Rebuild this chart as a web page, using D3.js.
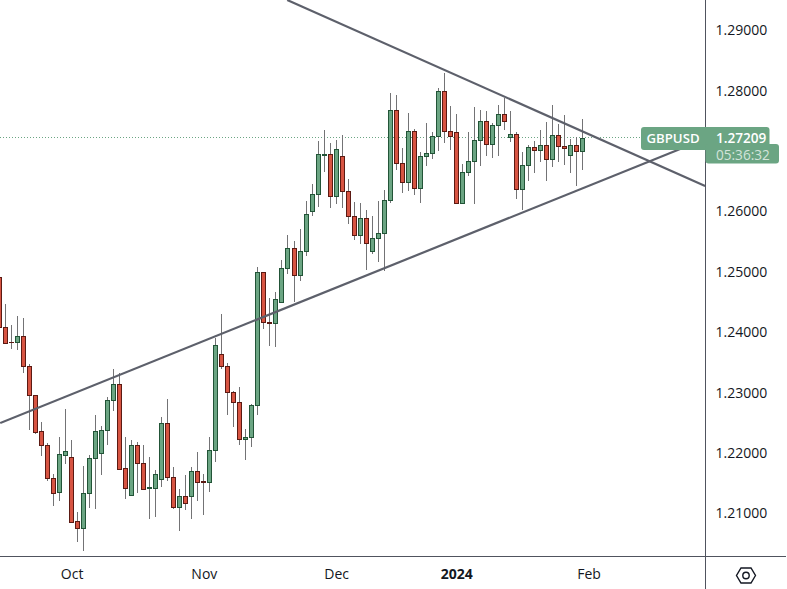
<!DOCTYPE html>
<html><head><meta charset="utf-8">
<script src="https://cdnjs.cloudflare.com/ajax/libs/d3/7.8.5/d3.min.js"></script>
<style>html,body{margin:0;padding:0;background:#fff}svg{display:block}text{font-family:"Open Sans","Liberation Sans",sans-serif}</style>
</head><body><div id="c"></div>
<script>
const opens=[1.24902,1.24080,1.23826,1.23821,1.23921,1.23424,1.22944,1.22348,1.22116,1.21570,1.21338,1.21960,1.21917,1.20858,1.20752,1.21321,1.21901,1.21993,1.22364,1.22861,1.23126,1.21735,1.21288,1.22116,1.21815,1.21404,1.21414,1.21553,1.22480,1.21586,1.21100,1.21272,1.21272,1.21686,1.21525,1.21503,1.22033,1.23623,1.23424,1.22994,1.22841,1.22215,1.22248,1.22778,1.24980,1.24154,1.24136,1.24483,1.25046,1.25378,1.24930,1.25328,1.25990,1.26272,1.26929,1.26934,1.26238,1.26901,1.26321,1.25907,1.25593,1.25874,1.25328,1.25543,1.25626,1.26172,1.27662,1.26785,1.26470,1.27315,1.26371,1.26901,1.26950,1.27232,1.27977,1.27315,1.27298,1.26123,1.26636,1.26818,1.27166,1.27480,1.27099,1.27414,1.27596,1.27225,1.27265,1.26354,1.26752,1.27050,1.27000,1.27083,1.26851,1.27248,1.27066,1.26917,1.27083,1.26983];
const highs=[1.24902,1.24455,1.24108,1.24257,1.24224,1.23462,1.22944,1.22502,1.22154,1.21636,1.22248,1.22717,1.22204,1.21012,1.21773,1.21950,1.22618,1.22436,1.22916,1.23379,1.23318,1.22248,1.22204,1.22171,1.22121,1.21922,1.21707,1.22580,1.22883,1.21757,1.21392,1.21624,1.21757,1.22005,1.21641,1.22253,1.23892,1.24290,1.23474,1.23010,1.23081,1.22386,1.22800,1.25068,1.24980,1.24555,1.24654,1.25184,1.25598,1.25498,1.25697,1.26161,1.26437,1.27154,1.27336,1.27121,1.27171,1.27253,1.26520,1.26139,1.26123,1.26012,1.25907,1.26161,1.26343,1.27949,1.27916,1.27033,1.27618,1.27348,1.26967,1.27452,1.27303,1.28027,1.28280,1.27733,1.27601,1.26773,1.27303,1.27717,1.27667,1.27651,1.27452,1.27750,1.27866,1.27651,1.27298,1.26972,1.27083,1.27154,1.27336,1.27469,1.27750,1.27435,1.27584,1.27182,1.27220,1.27518];
const lows=[1.24080,1.23805,1.23710,1.23694,1.23318,1.22369,1.22308,1.21944,1.21530,1.21116,1.21199,1.21806,1.20851,1.20520,1.20371,1.21083,1.21061,1.21629,1.22126,1.22689,1.21707,1.21229,1.21288,1.21331,1.21376,1.20901,1.20934,1.21431,1.21530,1.21066,1.20702,1.21045,1.20901,1.21199,1.20967,1.21348,1.21844,1.23384,1.22623,1.22424,1.22126,1.21873,1.22093,1.22623,1.24046,1.23765,1.23748,1.24483,1.24957,1.24488,1.24841,1.25255,1.25917,1.26061,1.26646,1.26050,1.26116,1.26050,1.25785,1.25515,1.25454,1.25018,1.25278,1.25151,1.25007,1.26133,1.26674,1.26298,1.26331,1.26265,1.26133,1.26740,1.26861,1.26993,1.27126,1.27010,1.26123,1.26123,1.26575,1.26111,1.26740,1.26906,1.26873,1.26911,1.27336,1.27142,1.26199,1.26012,1.26497,1.26629,1.26811,1.26497,1.26729,1.26811,1.26757,1.26629,1.26414,1.26679];
const closes=[1.24080,1.23805,1.23818,1.23921,1.23424,1.22944,1.22341,1.22116,1.21570,1.21331,1.21967,1.22017,1.20851,1.20752,1.21321,1.21901,1.22348,1.22364,1.22861,1.23126,1.21724,1.21414,1.22116,1.21815,1.21397,1.21421,1.21636,1.22480,1.21586,1.21100,1.21272,1.21166,1.21686,1.21513,1.21515,1.22033,1.23772,1.23424,1.22994,1.22841,1.22215,1.22248,1.22778,1.24980,1.24152,1.24142,1.24533,1.25046,1.25378,1.24930,1.25328,1.25940,1.26272,1.26934,1.26939,1.26238,1.27017,1.26321,1.25907,1.25593,1.25874,1.25460,1.25543,1.25626,1.26172,1.27662,1.26785,1.26470,1.27315,1.26371,1.26901,1.26950,1.27232,1.27977,1.27315,1.27232,1.26123,1.26636,1.26818,1.27166,1.27480,1.27099,1.27414,1.27596,1.27480,1.27265,1.26354,1.26752,1.27050,1.27000,1.27083,1.26851,1.27248,1.27066,1.27033,1.27083,1.26983,1.27209];
const xTickBars=[12,34,56,76,98];
const xTickLabels=["Oct","Nov","Dec","2024","Feb"];
const yTicks=[1.29,1.28,1.26,1.25,1.24,1.23,1.22,1.21];
const upperTrendBars=[47.87,117.4], upperTrendPrices=[1.29488,1.26409];
const lowerTrendBars=[0.12,114.9], lowerTrendPrices=[1.22485,1.27088];
const symbol="GBPUSD", lastPrice=1.27209, countdown="05:36:32";

const W=787,H=589,axisX=705,axisY=556;
const svg=d3.select("#c").append("svg").attr("width",W).attr("height",H).attr("viewBox",`0 0 ${W} ${H}`);
svg.append("rect").attr("width",W).attr("height",H).attr("fill","#fff");
svg.append("defs").append("clipPath").attr("id","pane").append("rect").attr("width",axisX).attr("height",axisY);

const x=d3.scaleLinear().domain([0,97]).range([-0.5,582.5]);
const y=d3.scaleLinear().domain([1.29,1.21]).range([29.5,512.7]);
const px=v=>Math.floor(x(v))+0.5;

const bars=opens.map((o,i)=>({i,o,h:highs[i],l:lows[i],c:closes[i]}));
const pane=svg.append("g").attr("clip-path","url(#pane)");
const UP="#6ba583",DOWN="#d75442",UPB="#225437",DOWNB="#5b1a13",WICK="#737375",LINE="#5d606b";

pane.append("line").attr("x1",0).attr("x2",axisX).attr("y1",Math.round(y(lastPrice))-0.5).attr("y2",Math.round(y(lastPrice))-0.5)
 .attr("stroke",UP).attr("stroke-width",1).attr("stroke-dasharray","1 2");

pane.selectAll("line.wick").data(bars).join("line").attr("class","wick")
 .attr("x1",d=>px(d.i)).attr("x2",d=>px(d.i)).attr("y1",d=>Math.round(y(d.h))).attr("y2",d=>Math.round(y(d.l)))
 .attr("stroke",WICK).attr("stroke-width",1);
pane.selectAll("rect.body").data(bars).join("rect").attr("class","body")
 .attr("x",d=>px(d.i)-2).attr("width",4)
 .attr("y",d=>Math.round(y(Math.max(d.o,d.c)))+0.5)
 .attr("height",d=>Math.max(0.01,Math.round(y(Math.min(d.o,d.c)))-Math.round(y(Math.max(d.o,d.c)))))
 .attr("fill",d=>d.c>=d.o?UP:DOWN).attr("stroke",d=>d.c>=d.o?UPB:DOWNB).attr("stroke-width",1);

[[upperTrendBars,upperTrendPrices],[lowerTrendBars,lowerTrendPrices]].forEach(([b,p])=>{
 pane.append("line").attr("x1",x(b[0])).attr("x2",x(b[1])).attr("y1",y(p[0])).attr("y2",y(p[1]))
  .attr("stroke",LINE).attr("stroke-width",2.2);
});

const yAxis=d3.axisRight(y).tickValues(yTicks).tickSize(0).tickPadding(10.5).tickFormat(d3.format(".5f"));
const gy=svg.append("g").attr("transform",`translate(${axisX},0.7)`).call(yAxis);
gy.select(".domain").remove();
gy.selectAll("text").attr("font-size",14).attr("fill","#131722");
const xAxis=d3.axisBottom(x).tickValues(xTickBars).tickSize(0).tickPadding(13).tickFormat((d,i)=>xTickLabels[i]);
const gx=svg.append("g").attr("transform",`translate(0,${axisY})`).call(xAxis);
gx.select(".domain").remove();
gx.selectAll("text").attr("font-size",14).attr("fill","#131722").attr("font-weight",d=>d===76?700:400);

svg.append("line").attr("x1",axisX+.5).attr("x2",axisX+.5).attr("y1",0).attr("y2",H).attr("stroke","#50535e");
svg.append("line").attr("x1",0).attr("x2",786).attr("y1",axisY+.5).attr("y2",axisY+.5).attr("stroke","#50535e");

const lab=svg.append("g");
lab.append("rect").attr("x",641).attr("y",127).attr("width",128.5).attr("height",23).attr("rx",3).attr("fill",UP);
lab.append("rect").attr("x",705.5).attr("y",144).attr("width",73.5).attr("height",19.5).attr("rx",3).attr("fill",UP);
lab.append("text").attr("x",646.5).attr("y",143).attr("font-size",13.2).attr("font-weight",600).attr("fill","#fff").text(symbol);
lab.append("text").attr("x",716).attr("y",143).attr("font-size",13.6).attr("font-weight",600).attr("fill","#fff").text(d3.format(".5f")(lastPrice));
lab.append("text").attr("x",716).attr("y",160).attr("font-size",13.6).attr("fill","#d3e4da").text(countdown);

const cx=746,cy=575.5;
svg.append("path").attr("fill","none").attr("stroke","#131722").attr("stroke-width",1.4)
 .attr("d",d3.line()(d3.range(6).map(k=>[cx+(k%3===0?9.5:5)*(k===0?1:k===3?-1:(k===1||k===5?1:-1)),cy+(k%3===0?0:7.5)*(k<3?1:-1)]))+"Z");
svg.append("circle").attr("cx",cx).attr("cy",cy).attr("r",3.2).attr("fill","none").attr("stroke","#131722").attr("stroke-width",1.4);
</script></body></html>
